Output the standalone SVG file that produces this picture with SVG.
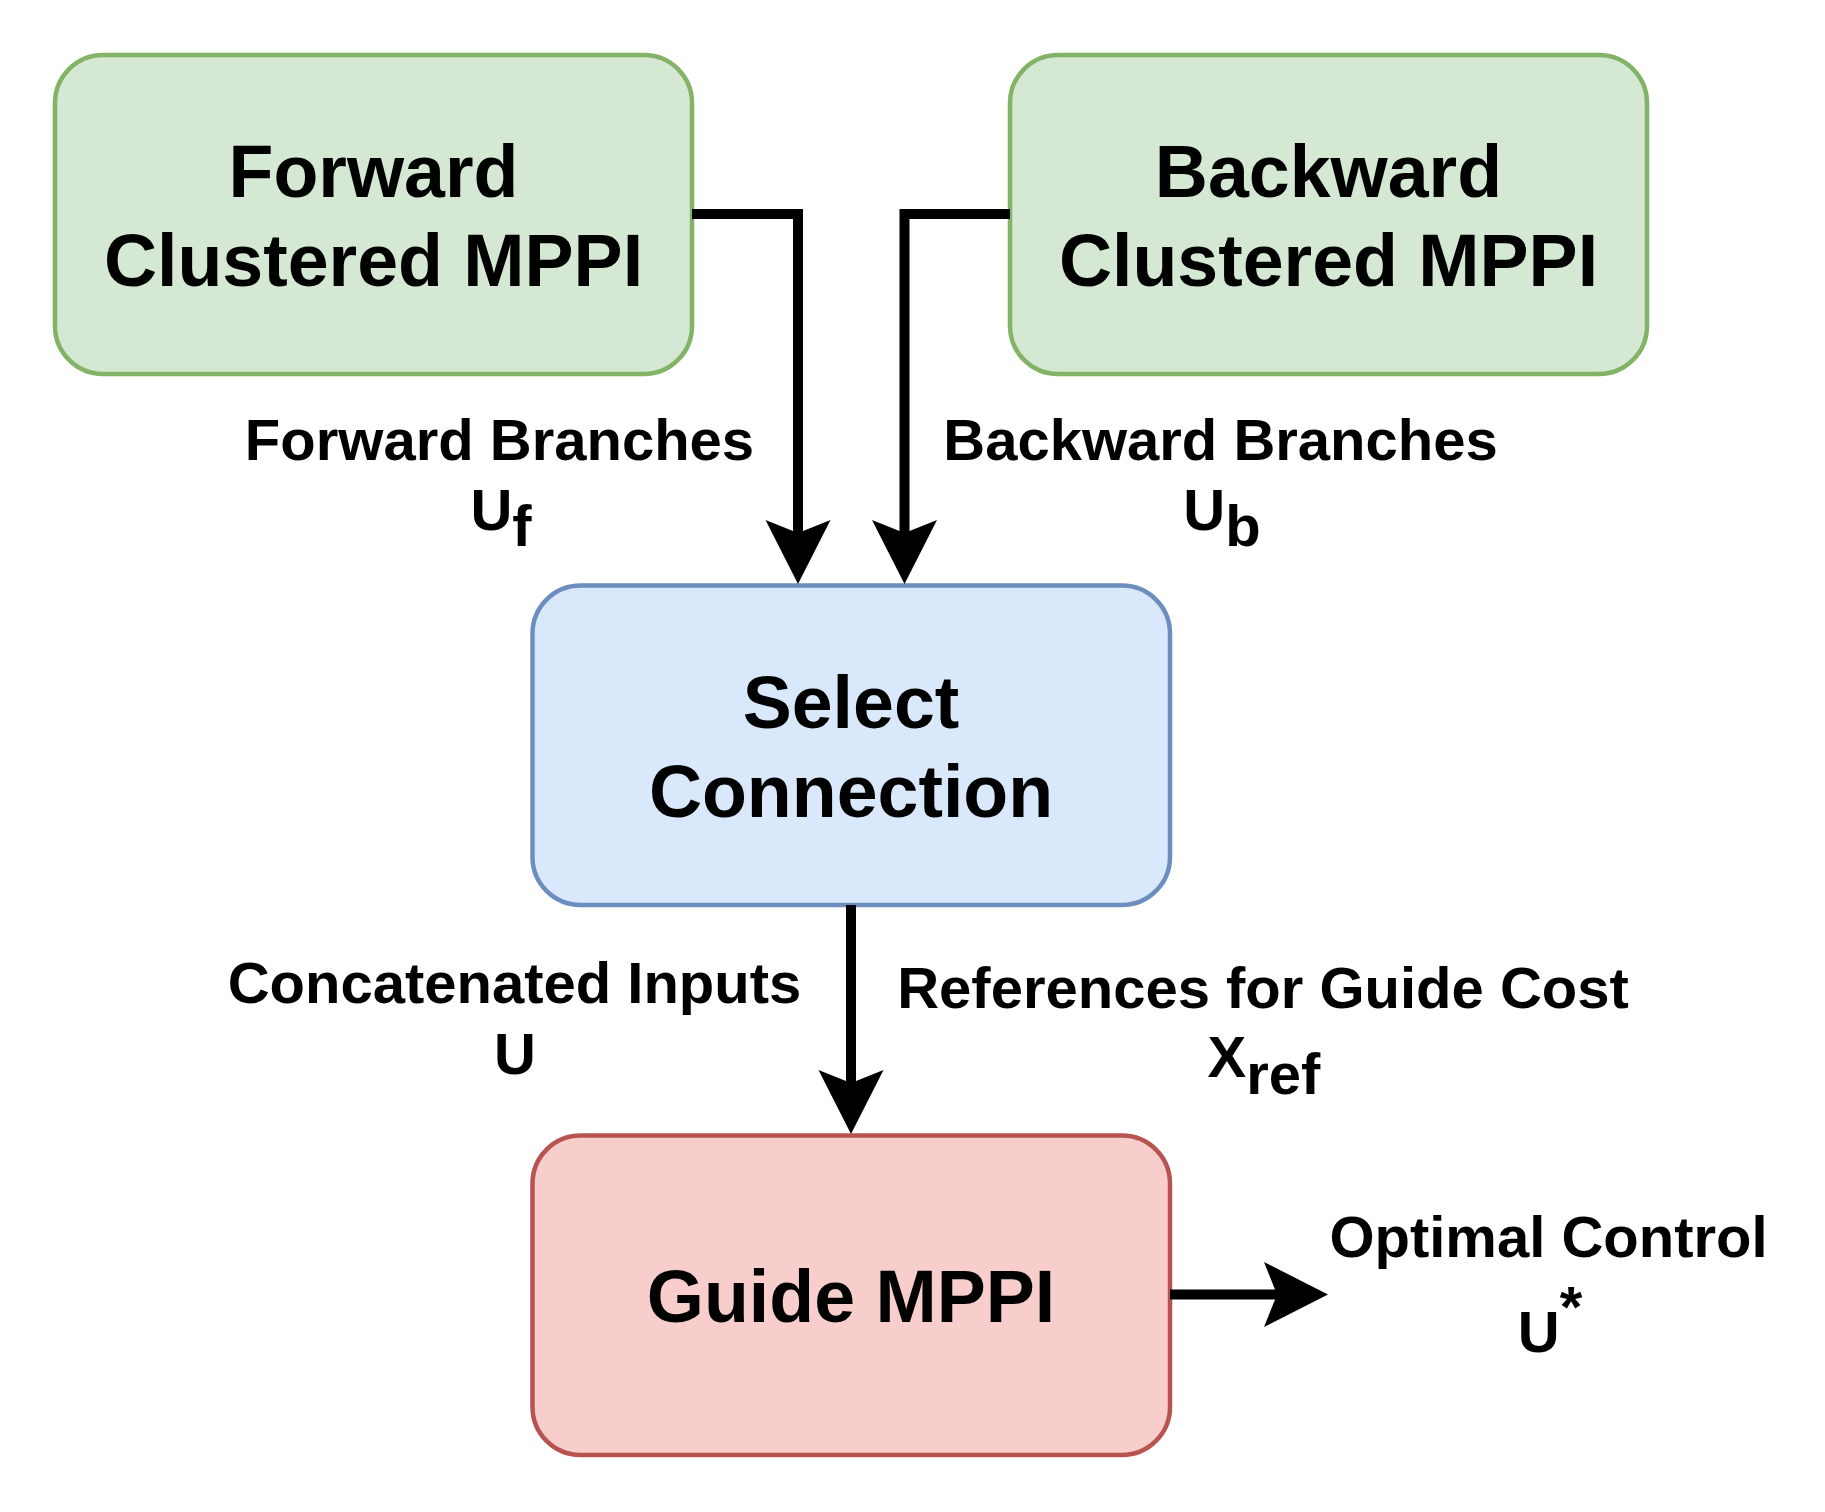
<svg xmlns="http://www.w3.org/2000/svg" width="1825" height="1512" viewBox="0 0 1825 1512">
  <style>
    .box { stroke-width: 4.5; }
    .green { fill: #d5e8d4; stroke: #82b366; }
    .blue { fill: #dae8fc; stroke: #6c8ebf; }
    .red { fill: #f8cecc; stroke: #b85450; }
    .title { font-family: "Liberation Sans", Arial, sans-serif; font-weight: bold; font-size: 73.5px; fill: #000; text-anchor: middle; }
    .lbl { font-family: "Liberation Sans", Arial, sans-serif; font-weight: bold; font-size: 58px; fill: #000; text-anchor: middle; }
    .conn { fill: none; stroke: #000; stroke-width: 10; stroke-linejoin: miter; }
  </style>
  <defs>
    <marker id="arrow" markerUnits="userSpaceOnUse" viewBox="-14 -34 66 68" refX="0" refY="0" markerWidth="66" markerHeight="68" orient="auto">
      <path d="M51,0 L-13,-32.5 L0,0 L-13,32.5 Z" fill="#000"/>
    </marker>
  </defs>
  <rect width="1825" height="1512" fill="#fff"/>

  <g id="forward">
    <rect class="box green" x="55" y="55" width="637" height="319" rx="48" ry="48"/>
    <text class="title" x="373.5" y="197">Forward</text>
    <text class="title" x="373.5" y="286">Clustered MPPI</text>
  </g>

  <g id="backward">
    <rect class="box green" x="1010" y="55" width="637" height="319" rx="48" ry="48"/>
    <text class="title" x="1328.5" y="197">Backward</text>
    <text class="title" x="1328.5" y="286">Clustered MPPI</text>
  </g>

  <g id="select">
    <rect class="box blue" x="532.5" y="585.5" width="637.5" height="319.5" rx="48" ry="48"/>
    <text class="title" x="851" y="727.5">Select</text>
    <text class="title" x="851" y="816.5">Connection</text>
  </g>

  <g id="guide">
    <rect class="box red" x="532.5" y="1135.5" width="637.5" height="319.5" rx="48" ry="48"/>
    <text class="title" x="851" y="1321.5">Guide MPPI</text>
  </g>

  <g id="connectors">
    <path class="conn" d="M692,214 H798 V533" marker-end="url(#arrow)"/>
    <path class="conn" d="M1010,214 H904.5 V533" marker-end="url(#arrow)"/>
    <path class="conn" d="M851,905 V1083" marker-end="url(#arrow)"/>
    <path class="conn" d="M1170,1294.5 H1277" marker-end="url(#arrow)"/>
  </g>

  <g id="labels">
    <text class="lbl" x="499.5" y="460">Forward Branches</text>
    <text class="lbl" x="501" y="530">U<tspan dy="16">f</tspan></text>
    <text class="lbl" x="1220.5" y="460">Backward Branches</text>
    <text class="lbl" x="1222" y="530">U<tspan dy="16">b</tspan></text>
    <text class="lbl" x="514.5" y="1003">Concatenated Inputs</text>
    <text class="lbl" x="515" y="1074">U</text>
    <text class="lbl" x="1263" y="1008">References for Guide Cost</text>
    <text class="lbl" x="1264" y="1077">X<tspan dy="17">ref</tspan></text>
    <text class="lbl" x="1548.5" y="1257">Optimal Control</text>
    <text class="lbl" x="1550" y="1352">U<tspan dy="-25">*</tspan></text>
  </g>
</svg>
